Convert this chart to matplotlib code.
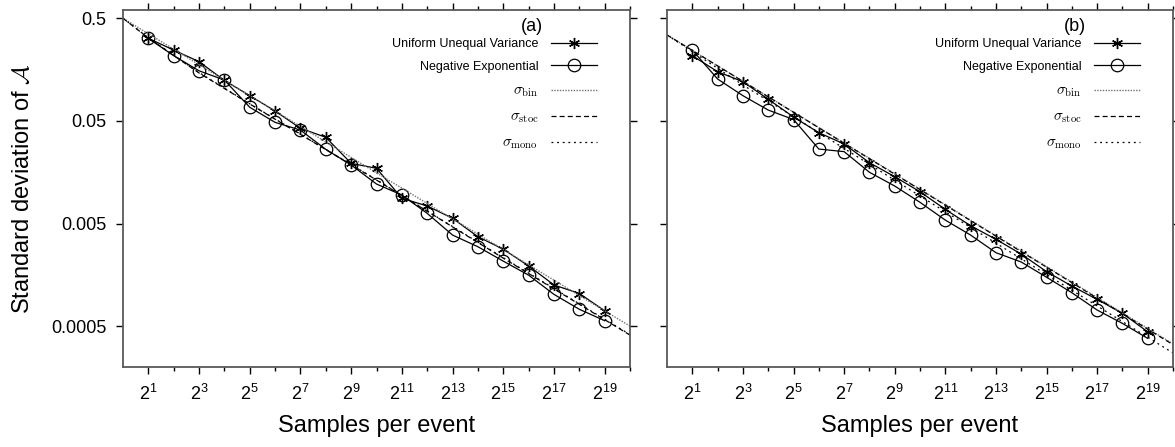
import numpy as np
import matplotlib
matplotlib.use("Agg")
import matplotlib.pyplot as plt

plt.rcParams['font.family'] = ['Liberation Sans', 'DejaVu Sans']
plt.rcParams['mathtext.fontset'] = 'cm'

# samples per event, as powers of two
exps = np.arange(1, 20)

# panel (a): measured std of A
uuv_a = [0.319, 0.245, 0.189, 0.124, 0.0881, 0.0624, 0.0424, 0.0346, 0.0193,
         0.01726, 0.00881, 0.00741, 0.00562, 0.00372, 0.00281, 0.00193,
         0.00126, 0.00104, 0.000706]
negexp_a = [0.319, 0.216, 0.154, 0.125, 0.0679, 0.0484, 0.0407, 0.0264, 0.0186,
            0.01213, 0.00948, 0.00628, 0.00386, 0.00297, 0.00215, 0.00157,
            0.00102, 0.00073, 0.000565]

# panel (b)
uuv_b = [0.216, 0.151, 0.1205, 0.0813, 0.0546, 0.0384, 0.0298, 0.0196, 0.0143,
         0.0102, 0.00687, 0.00476, 0.00351, 0.00252, 0.0017, 0.00123,
         0.000912, 0.000667, 0.00044]
negexp_b = [0.245, 0.128, 0.0881, 0.0638, 0.0516, 0.0266, 0.0251, 0.0158, 0.0116,
            0.00805, 0.0054, 0.00386, 0.0026, 0.00211, 0.0015, 0.00106,
            0.000718, 0.000532, 0.00038]

# theory curves (exponent, value)
bin_a_x = [0, 10, 20]
bin_a = [0.5, 0.0156, 0.0005]
stoc_a_x = [0, 1, 3, 5, 10, 15, 20]
stoc_a = [0.5, 0.321, 0.1466, 0.0731, 0.01327, 0.0023, 0.000409]
mono_a = [0.5, 0.323, 0.148, 0.0735, 0.01335, 0.00232, 0.000414]

bin_b_x = [0, 10, 20]
bin_b = [0.344, 0.0108, 0.000336]
stoc_b = [0.344, 0.0107, 0.00033]
mono_b_x = [0, 3, 10, 20]
mono_b = [0.344, 0.112, 0.00927, 0.000274]

yticks = [0.5, 0.05, 0.005, 0.0005]
ytick_labels = ['0.5', '0.05', '0.005', '0.0005']

fig = plt.figure(figsize=(11.75, 4.47), dpi=100)
ax1 = fig.add_axes([0.1047, 0.179, 0.4315, 0.7987])
ax2 = fig.add_axes([0.5677, 0.179, 0.4306, 0.7987])

panels = [
    (ax1, '(a)', uuv_a, negexp_a, (bin_a_x, bin_a), (stoc_a_x, stoc_a), (stoc_a_x, mono_a)),
    (ax2, '(b)', uuv_b, negexp_b, (bin_b_x, bin_b), (bin_b_x, stoc_b), (mono_b_x, mono_b)),
]

for ax, tag, uuv, neg, sbin, sstoc, smono in panels:
    n = 2.0 ** exps
    ax.plot(n, uuv, color='black', lw=0.9, marker=(6, 2, 0), ms=8, mew=1.0,
            label='Uniform Unequal Variance')
    ax.plot(n, neg, color='black', lw=0.9, marker='o', ms=9, mfc='none', mew=0.9,
            label='Negative Exponential')
    ax.plot(2.0 ** np.array(sbin[0]), sbin[1], color='0.45', lw=1.0,
            ls=(0, (1, 1)), label=r'$\sigma_{\rm bin}$')
    ax.plot(2.0 ** np.array(sstoc[0]), sstoc[1], color='black', lw=0.9,
            ls=(0, (4, 2.5)), label=r'$\sigma_{\rm stoc}$')
    ax.plot(2.0 ** np.array(smono[0]), smono[1], color='black', lw=0.9,
            ls=(0, (1.5, 3)), label=r'$\sigma_{\rm mono}$')

    ax.set_xscale('log', base=2)
    ax.set_yscale('log')
    ax.set_xlim(1, 2 ** 20)
    ax.set_ylim(0.0002, 0.603)

    ax.set_xticks([2.0 ** k for k in range(1, 20, 2)])
    ax.set_xticklabels([r'$\mathregular{2^{%d}}$' % k for k in range(1, 20, 2)])
    ax.set_xticks([2.0 ** k for k in range(2, 21, 2)], minor=True)
    ax.xaxis.set_minor_formatter(matplotlib.ticker.NullFormatter())
    ax.set_yticks(yticks)
    ax.yaxis.set_minor_locator(matplotlib.ticker.NullLocator())
    if ax is ax1:
        ax.set_yticklabels(ytick_labels)
        ax.set_ylabel(r'Standard deviation of $\mathcal{A}$', fontsize=17, labelpad=12)
    else:
        ax.set_yticklabels([])

    ax.tick_params(which='both', direction='out', top=True, right=True,
                   labelsize=13, color='black')
    ax.tick_params(which='major', length=5, width=1, pad=7)
    ax.tick_params(which='minor', length=3, width=1)
    for sp in ax.spines.values():
        sp.set_color('0.35')
        sp.set_linewidth(1.3)

    ax.set_xlabel('Samples per event', fontsize=17, labelpad=8)

    ax.text(0.828, 0.955, tag, transform=ax.transAxes, ha='right', va='center',
            fontsize=13)
    leg = ax.legend(loc='upper right', bbox_to_anchor=(0.945, 0.935), frameon=False,
                    markerfirst=False, fontsize=9, handlelength=3.7, labelspacing=0.85,
                    handletextpad=1.0, borderaxespad=0)
    for t in leg.get_texts()[2:]:
        t.set_fontsize(11)

fig.savefig('out.png', dpi=100)
